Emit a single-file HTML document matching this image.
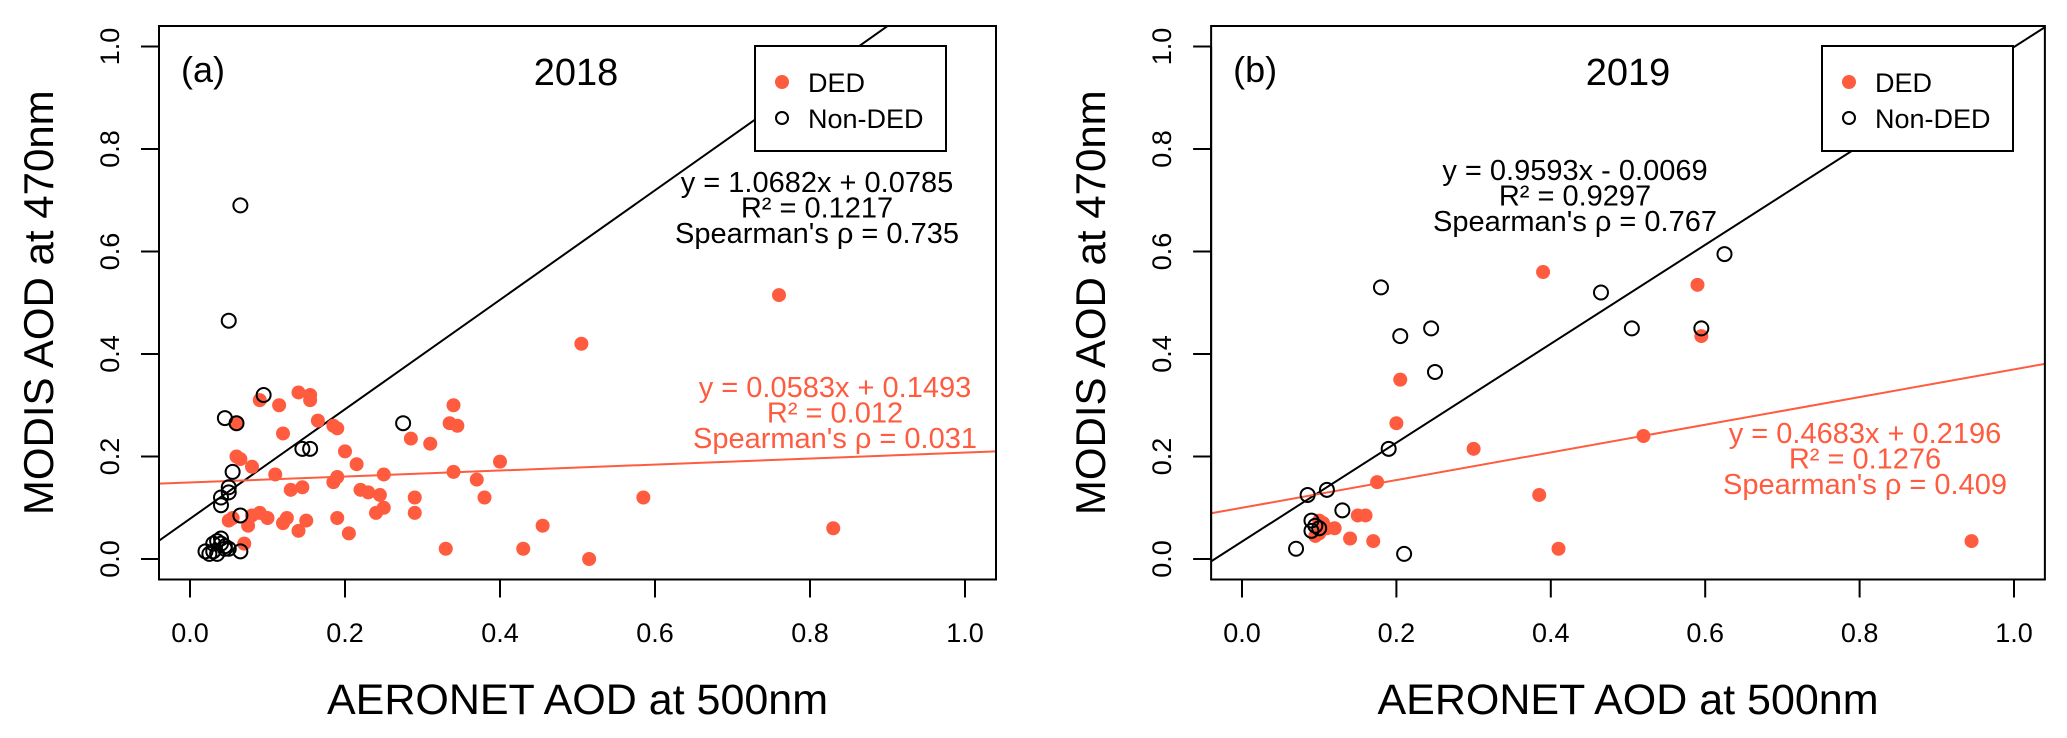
<!DOCTYPE html>
<html><head><meta charset="utf-8"><style>
html,body{margin:0;padding:0;background:#fff;}
svg{display:block;font-family:"Liberation Sans",Arial,sans-serif;}
</style></head><body>
<svg id="chart" width="2067" height="738" viewBox="0 0 2067 738"></svg>
<script>
// ---- Panel (a) 2018 data ----
const dedA_x = [0.76,0.505,0.83,0.585,0.515,0.455,0.43,0.40,0.38,0.37,0.34,0.345,0.335,0.34,0.33,0.31,0.285,0.29,0.29,0.25,0.25,0.245,0.24,0.23,0.22,0.215,0.205,0.20,0.19,0.185,0.19,0.185,0.19,0.165,0.155,0.155,0.14,0.145,0.15,0.14,0.13,0.12,0.115,0.11,0.12,0.125,0.10,0.09,0.09,0.08,0.075,0.08,0.07,0.065,0.06,0.06,0.055,0.05];
const dedA_y = [0.515,0.42,0.06,0.12,0.0,0.065,0.02,0.19,0.12,0.155,0.30,0.26,0.265,0.17,0.02,0.225,0.235,0.12,0.09,0.165,0.10,0.125,0.09,0.13,0.135,0.185,0.05,0.21,0.255,0.26,0.16,0.15,0.08,0.27,0.32,0.31,0.325,0.14,0.075,0.055,0.135,0.245,0.30,0.165,0.07,0.08,0.08,0.09,0.31,0.18,0.065,0.085,0.03,0.195,0.2,0.265,0.08,0.075];
const nonA_x = [0.065,0.05,0.095,0.045,0.06,0.275,0.145,0.155,0.055,0.05,0.05,0.04,0.04,0.065,0.03,0.035,0.04,0.045,0.02,0.025,0.03,0.035,0.045,0.05,0.065,0.04];
const nonA_y = [0.69,0.465,0.32,0.275,0.265,0.265,0.215,0.215,0.17,0.14,0.13,0.12,0.105,0.085,0.03,0.035,0.03,0.025,0.015,0.01,0.015,0.01,0.02,0.02,0.015,0.04];
// ---- Panel (b) 2019 data ----
const dedB_x = [0.39,0.59,0.595,0.205,0.2,0.30,0.52,0.385,0.175,0.41,0.945,0.16,0.15,0.14,0.17,0.12,0.11,0.10,0.095,0.10,0.105];
const dedB_y = [0.56,0.535,0.435,0.35,0.265,0.215,0.24,0.125,0.15,0.02,0.035,0.085,0.085,0.04,0.035,0.06,0.06,0.05,0.045,0.075,0.07];
const nonB_x = [0.18,0.625,0.465,0.205,0.245,0.505,0.595,0.25,0.19,0.13,0.11,0.085,0.07,0.21,0.09,0.095,0.09,0.10];
const nonB_y = [0.53,0.595,0.52,0.435,0.45,0.45,0.45,0.365,0.215,0.095,0.135,0.125,0.02,0.01,0.075,0.065,0.055,0.06];
const ticks = [0.0,0.2,0.4,0.6,0.8,1.0];
const tickLabels = ["0.0","0.2","0.4","0.6","0.8","1.0"];
const fitA_black = [1.0682,0.0785], fitA_red = [0.0583,0.1493];
const fitB_black = [0.965,0.034], fitB_red = [0.27,0.10];

const NS="http://www.w3.org/2000/svg";
const svg=document.getElementById('chart');
const RED="#FF5B3F";
function mk(tag,attrs,parent){const e=document.createElementNS(NS,tag);for(const k in attrs)e.setAttribute(k,attrs[k]);(parent||svg).appendChild(e);return e;}
function txt(s,attrs,parent){const e=mk('text',attrs,parent);e.textContent=s;return e;}

function panel(cfg){
  const g=mk('g',{});
  
  
  const X=v=>cfg.x0+v*cfg.sx, Y=v=>559-v*512.5;
  const L=X(-0.04),R=X(1.04),T=Y(1.04),B=Y(-0.04);
  const clip=mk('clipPath',{id:'clip'+cfg.id},g);
  mk('rect',{x:L,y:T,width:R-L,height:B-T},clip);
  [[cfg.fitB,'#000','black'],[cfg.fitR,RED,'red']].forEach(([f,c,n])=>{
    const l=mk('line',{x1:X(-0.04),y1:Y(f[0]*-0.04+f[1]),x2:X(1.04),y2:Y(f[0]*1.04+f[1]),stroke:c,'stroke-width':2,'clip-path':'url(#clip'+cfg.id+')'},g);
    
    
  });
  cfg.dx.forEach((v,i)=>{
    const c=mk('circle',{cx:X(v),cy:Y(cfg.dy[i]),r:7,fill:RED},g);
    
    
  });
  cfg.nx.forEach((v,i)=>{
    const c=mk('circle',{cx:X(v),cy:Y(cfg.ny[i]),r:7,fill:'none',stroke:'#000','stroke-width':2},g);
    
    
  });
  const box=mk('rect',{x:L,y:T,width:R-L,height:B-T,fill:'none',stroke:'#000','stroke-width':2},g);
  
  
  mk('line',{x1:X(0),y1:B,x2:X(1),y2:B,stroke:'#000','stroke-width':2},g);
  mk('line',{x1:L,y1:Y(0),x2:L,y2:Y(1),stroke:'#000','stroke-width':2},g);
  ticks.forEach((t,i)=>{
    mk('line',{x1:X(t),y1:B,x2:X(t),y2:B+18,stroke:'#000','stroke-width':2},g);
    const xl=txt(tickLabels[i],{x:X(t),y:642,'font-size':27,'text-anchor':'middle'},g);
    
    
    mk('line',{x1:L,y1:Y(t),x2:L-18,y2:Y(t),stroke:'#000','stroke-width':2},g);
    const yl=txt(tickLabels[i],{x:0,y:0,'font-size':27,'text-anchor':'middle',transform:`translate(${L-40},${Y(t)}) rotate(-90)`},g);
    
    
  });
  const xt=txt('AERONET AOD at 500nm',{x:(X(0)+X(1))/2,y:714,'font-size':43,'text-anchor':'middle'},g);
  
  
  const yt=txt('MODIS AOD at 470nm',{x:0,y:0,'font-size':42,'text-anchor':'middle',transform:`translate(${L-106},${Y(0.5)}) rotate(-90)`},g);
  
  
  const pl=txt(cfg.label,{x:L+22,y:82,'font-size':36},g);
  
  
  const yr=txt(cfg.year,{x:cfg.yearX,y:85,'font-size':38,'text-anchor':'middle'},g);
  
  
  const lg=mk('g',{},g);
  
  
  mk('rect',{x:cfg.legX,y:cfg.legY,width:191,height:105,fill:'#fff',stroke:'#000','stroke-width':2},lg);
  mk('circle',{cx:cfg.legX+27,cy:cfg.legY+36,r:7,fill:RED},lg);
  mk('circle',{cx:cfg.legX+27,cy:cfg.legY+72,r:6,fill:'none',stroke:'#000','stroke-width':2},lg);
  const e1=txt('DED',{x:cfg.legX+53,y:cfg.legY+46,'font-size':27},lg);
  
  
  const e2=txt('Non-DED',{x:cfg.legX+53,y:cfg.legY+82,'font-size':27},lg);
  
  
  const eb=mk('g',{'font-size':29,'text-anchor':'middle',fill:'#000'},g);
  
  
  cfg.eqB.forEach((s,i)=>txt(s,{x:cfg.eqBx,y:cfg.eqBy+i*25.5},eb));
  const er=mk('g',{'font-size':29,'text-anchor':'middle',fill:RED},g);
  
  
  cfg.eqR.forEach((s,i)=>txt(s,{x:cfg.eqRx,y:cfg.eqRy+i*25.5},er));
}
panel({id:'a',x0:190,sx:775,dx:dedA_x,dy:dedA_y,nx:nonA_x,ny:nonA_y,fitB:fitA_black,fitR:fitA_red,
  label:'(a)',year:'2018',yearX:576,legX:755,legY:46,
  eqB:['y = 1.0682x + 0.0785','R² = 0.1217',"Spearman's ρ = 0.735"],eqBx:817,eqBy:192,
  eqR:['y = 0.0583x + 0.1493','R² = 0.012',"Spearman's ρ = 0.031"],eqRx:835,eqRy:397});
panel({id:'b',x0:1242,sx:772,dx:dedB_x,dy:dedB_y,nx:nonB_x,ny:nonB_y,fitB:fitB_black,fitR:fitB_red,
  label:'(b)',year:'2019',yearX:1628,legX:1822,legY:46,
  eqB:['y = 0.9593x - 0.0069','R² = 0.9297',"Spearman's ρ = 0.767"],eqBx:1575,eqBy:180,
  eqR:['y = 0.4683x + 0.2196','R² = 0.1276',"Spearman's ρ = 0.409"],eqRx:1865,eqRy:443});
</script>
</body></html>
